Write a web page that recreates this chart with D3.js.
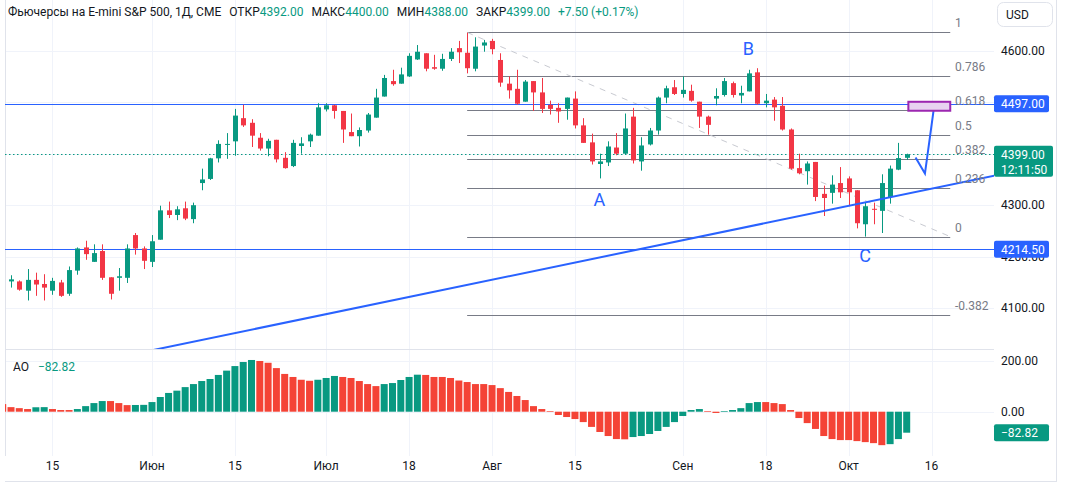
<!DOCTYPE html>
<html><head><meta charset="utf-8">
<script src="https://cdn.jsdelivr.net/npm/d3@7"></script>
<style>body{margin:0;background:#fff;}svg{display:block;font-family:"Trebuchet MS",Roboto,"Noto Sans",sans-serif;}</style>
</head><body><svg id="c" width="1067" height="488"></svg>
<script>
// ---------- data ----------
const opens  = [4152,4152,4134,4155,4147,4134,4150,4128,4173,4218,4190,4211,4160,4159,4159,4242,4216,4190,4233,4290,4281,4294,4273,4343,4351,4391,4418,4424,4469,4460,4431,4410,4427,4392,4376,4415,4424,4435,4486,4494,4483,4442,4434,4445,4470,4511,4541,4536,4550,4583,4595,4568,4565,4584,4605,4596,4565,4610,4619,4582,4536,4526,4501,4541,4519,4495,4489,4487,4507,4455,4422,4380,4383,4412,4400,4472,4385,4418,4445,4509,4529,4516,4522,4501,4472,4507,4514,4537,4513,4521,4558,4498,4505,4493,4447,4372,4366,4384,4322,4324,4343,4352,4329,4263,4293,4289,4316,4369,4392];
const highs  = [4164,4154,4176,4169,4166,4159,4155,4181,4218,4231,4224,4224,4160,4178,4224,4246,4220,4242,4299,4307,4298,4307,4305,4371,4392,4426,4440,4487,4495,4467,4440,4429,4427,4403,4427,4432,4439,4498,4498,4495,4483,4478,4451,4479,4526,4553,4563,4567,4595,4611,4595,4592,4594,4605,4619,4635,4626,4621,4623,4595,4550,4563,4543,4541,4547,4503,4498,4509,4521,4469,4439,4400,4424,4440,4478,4489,4432,4450,4511,4532,4543,4550,4534,4501,4474,4527,4547,4540,4532,4563,4566,4516,4510,4510,4449,4400,4385,4384,4338,4358,4374,4356,4329,4305,4305,4360,4377,4421,4400];
const lows   = [4140,4134,4115,4124,4115,4126,4122,4124,4165,4194,4190,4155,4117,4134,4149,4204,4176,4180,4233,4275,4271,4271,4265,4329,4349,4383,4390,4396,4452,4413,4406,4395,4383,4371,4374,4400,4413,4435,4482,4468,4421,4434,4414,4441,4470,4511,4532,4536,4549,4582,4560,4563,4561,4580,4576,4556,4560,4598,4593,4530,4507,4495,4501,4483,4479,4476,4460,4466,4449,4421,4379,4352,4376,4397,4398,4381,4367,4416,4437,4498,4514,4509,4501,4450,4437,4494,4511,4509,4498,4521,4495,4490,4464,4445,4369,4360,4340,4308,4279,4303,4314,4298,4255,4239,4263,4246,4303,4368,4388];
const closes = [4156,4136,4155,4146,4140,4153,4124,4174,4216,4205,4207,4159,4128,4162,4216,4216,4192,4230,4290,4281,4292,4274,4300,4350,4391,4419,4419,4474,4455,4435,4410,4425,4389,4372,4421,4420,4437,4490,4494,4483,4447,4434,4446,4476,4509,4547,4535,4554,4590,4598,4565,4565,4584,4598,4597,4566,4608,4616,4603,4538,4523,4497,4540,4519,4487,4487,4482,4509,4455,4421,4385,4385,4414,4400,4449,4387,4416,4445,4509,4527,4516,4524,4503,4472,4456,4512,4541,4514,4518,4556,4497,4503,4490,4447,4371,4362,4381,4316,4314,4340,4325,4325,4265,4298,4292,4343,4371,4391.5,4399];
const aoBefore = 30;
const aoValues = [18,14,10.5,17.5,18,10.5,6.6,6.6,10.5,22,34,42,42,34,26,26.5,27,38,58,74,83,97,109,121,129,145,162,180,196,204,200,193,172,149,137,126,122,126,133,141,137,133,121,109,101,109,113,125,137,146,145,137,137,133,123,117,109,109,105,93,78,62,46,22,10.5,2.6,-13,-21,-29,-41,-60,-80,-96,-108,-109,-100,-96,-88,-76,-60,-41,-17,6.6,10.5,2.6,-5,2.6,6.6,14,34,38,38,34,30,6.6,-25,-45,-68,-96,-108,-112,-112,-116,-120,-124,-132,-128,-108,-82.82];
const tickIdx    = [5,17,27,38,48,58,68,81,91,101,111];
const tickLabels = ["15","Июн","15","Июл","18","Авг","15","Сен","18","Окт","16"];
const priceTicks = [4100,4200,4300,4400,4500,4600];
const aoTicks    = [0,200];
const fibLevels  = [1,0.786,0.618,0.5,0.382,0.236,0,-0.382];
const fibAnchor  = [{i:55,p:4635.5},{i:113.25,p:4239}];
const levelLines = [4497,4214.5];
const trendPts   = [{i:17.36,p:4019.5},{i:118.04,p:4355.7}];
const pathPts    = [{i:109.07,p:4392.5},{i:110.2,p:4361.5},{i:111.25,p:4485}];
const rectZone   = {i0:108.2,i1:113.25,p0:4483.4,p1:4500.8};
const waveLabels = [{t:"A",i:70.95,p:4311},{t:"B",i:88.9,p:4605},{t:"C",i:103,p:4203}];

// ---------- layout ----------
const L=5, R=994, mainTop=0, mainBot=349, aoTop=350, aoBot=456;
const GREEN="#089981", RED="#f23645", AOG="#089981", AOR="#f44336", BLUE="#2962ff", TXT="#131722", GRID="#f0f3fa", FIB="#787b86";
const svg=d3.select("#c");
const x=d3.scaleLinear().domain([0,108]).range([11,906.7]);
const y=d3.scaleLinear().domain([4100,4600]).range([308.2,50.7]);
const ya=d3.scaleLinear().domain([0,200]).range([411.7,361]);

const defs=svg.append("defs");
defs.append("clipPath").attr("id","mc").append("rect").attr("x",L).attr("y",mainTop).attr("width",R-L).attr("height",mainBot-mainTop);
defs.append("clipPath").attr("id","ac").append("rect").attr("x",L).attr("y",aoTop).attr("width",R-L).attr("height",aoBot-aoTop);

// grid
const g=svg.append("g");
tickIdx.forEach(t=>{
  g.append("line").attr("x1",Math.round(x(t))+0.5).attr("x2",Math.round(x(t))+0.5).attr("y1",0).attr("y2",aoBot).attr("stroke",GRID);
});
priceTicks.forEach(p=>g.append("line").attr("x1",L).attr("x2",R).attr("y1",Math.round(y(p))+0.5).attr("y2",Math.round(y(p))+0.5).attr("stroke",GRID));
aoTicks.forEach(p=>g.append("line").attr("x1",L).attr("x2",R).attr("y1",Math.round(ya(p))+0.5).attr("y2",Math.round(ya(p))+0.5).attr("stroke",GRID));
// borders
svg.append("line").attr("x1",L+0.5).attr("x2",L+0.5).attr("y1",0).attr("y2",aoBot).attr("stroke","#e0e3eb");
svg.append("line").attr("x1",L).attr("x2",R).attr("y1",mainBot+0.5).attr("y2",mainBot+0.5).attr("stroke","#e0e3eb");
svg.append("line").attr("x1",1056.5).attr("x2",1056.5).attr("y1",0).attr("y2",482).attr("stroke","#e0e3eb");
svg.append("line").attr("x1",L).attr("x2",1057).attr("y1",481.5).attr("y2",481.5).attr("stroke","#e0e3eb");

// main pane
const m=svg.append("g").attr("clip-path","url(#mc)");
// fib
const fy=l=>y(fibAnchor[1].p+(fibAnchor[0].p-fibAnchor[1].p)*l);
const fx0=x(fibAnchor[0].i), fx1=x(fibAnchor[1].i);
fibLevels.forEach(l=>{
  m.append("line").attr("x1",fx0).attr("x2",fx1).attr("y1",Math.round(fy(l))+0.5).attr("y2",Math.round(fy(l))+0.5).attr("stroke",FIB).attr("stroke-width",1);
});
m.append("line").attr("x1",fx0).attr("y1",y(fibAnchor[0].p)).attr("x2",fx1).attr("y2",y(fibAnchor[1].p))
  .attr("stroke","#c8cad1").attr("stroke-width",1).attr("stroke-dasharray","6,6");
// level lines
levelLines.forEach(p=>m.append("line").attr("x1",L).attr("x2",R).attr("y1",Math.round(y(p))+0.5).attr("y2",Math.round(y(p))+0.5).attr("stroke",BLUE).attr("stroke-width",1));
// last price dotted
m.append("line").attr("x1",L).attr("x2",R).attr("y1",Math.round(y(closes[108]))+0.5).attr("y2",Math.round(y(closes[108]))+0.5)
  .attr("stroke",GREEN).attr("stroke-dasharray","1.5,2.5");
// candles
d3.range(opens.length).forEach(i=>{
  const up=closes[i]>=opens[i], col=up?GREEN:RED, cx=Math.round(x(i));
  m.append("line").attr("x1",cx+0.5).attr("x2",cx+0.5).attr("y1",y(highs[i])).attr("y2",y(lows[i])).attr("stroke",col);
  const top=y(Math.max(opens[i],closes[i])), bot=y(Math.min(opens[i],closes[i]));
  m.append("rect").attr("x",cx-2).attr("width",5).attr("y",top).attr("height",Math.max(1,bot-top)).attr("fill",col);
});
// trend line (extended)
const tl=d3.scaleLinear().domain([trendPts[0].i,trendPts[1].i]).range([trendPts[0].p,trendPts[1].p]);
m.append("line").attr("x1",x(-40)).attr("y1",y(tl(-40))).attr("x2",x(140)).attr("y2",y(tl(140))).attr("stroke",BLUE).attr("stroke-width",2);
// forecast path
m.append("path").attr("d",d3.line().x(d=>x(d.i)).y(d=>y(d.p))(pathPts)).attr("fill","none").attr("stroke",BLUE).attr("stroke-width",2);
// zone rect
m.append("rect").attr("x",x(rectZone.i0)).attr("y",y(rectZone.p1)).attr("width",x(rectZone.i1)-x(rectZone.i0)).attr("height",y(rectZone.p0)-y(rectZone.p1))
  .attr("fill","#e8d3f0").attr("stroke","#9c27b0").attr("stroke-width",2);
// wave labels
waveLabels.forEach(d=>m.append("text").attr("x",x(d.i)).attr("y",y(d.p)).attr("text-anchor","middle").attr("dominant-baseline","central")
  .attr("font-size",18).attr("fill",BLUE).text(d.t));
// fib labels
fibLevels.forEach(l=>svg.append("text").attr("x",955).attr("y",fy(l)-5).attr("font-size",12).attr("fill",FIB).text(String(l)));

// AO pane
const a=svg.append("g").attr("clip-path","url(#ac)");
const aoAll=[{i:-1,v:aoBefore,c:AOR}].concat(aoValues.map((v,i)=>({i,v,c:(v-(i?aoValues[i-1]:aoBefore))>0?AOG:AOR})));
aoAll.forEach(d=>{
  const y0=ya(0), y1=ya(d.v);
  a.append("rect").attr("x",x(d.i)-3.5).attr("width",7).attr("y",Math.min(y0,y1)).attr("height",Math.abs(y1-y0)).attr("fill",d.c);
});
svg.append("text").attr("x",13).attr("y",371).attr("font-size",12).attr("fill",TXT).text("AO");
svg.append("text").attr("x",38).attr("y",371).attr("font-size",12).attr("fill",AOG).text(d3.format(".2f")(aoValues[aoValues.length-1]).replace("-","\u2212"));

// right axis labels (4200 sits partly under the 4214.50 badge, as in the reference)
priceTicks.forEach(p=>svg.append("text").attr("x",1001).attr("y",y(p)+4).attr("font-size",12).attr("fill",TXT).text(d3.format(".2f")(p)));
aoTicks.forEach(p=>svg.append("text").attr("x",1001).attr("y",ya(p)+4).attr("font-size",12).attr("fill",TXT).text(d3.format(".2f")(p)));
function box(yc,h,w,fill,lines){
  svg.append("rect").attr("x",994).attr("y",yc-h/2).attr("width",w).attr("height",h).attr("rx",2).attr("fill",fill);
  lines.forEach((t,k)=>svg.append("text").attr("x",1001).attr("y",yc-h/2+13+k*15).attr("font-size",12).attr("fill","#fff").text(t));
}
box(y(levelLines[0]),17,55,BLUE,[d3.format(".2f")(levelLines[0])]);
box(y(closes[108])+7,31,59,GREEN,[d3.format(".2f")(closes[108]),"12:11:50"]);
box(y(levelLines[1]),17,55,BLUE,[d3.format(".2f")(levelLines[1])]);
box(ya(aoValues[108]),17,55,AOG,[d3.format(".2f")(aoValues[108]).replace("-","\u2212")]);

// time axis
tickIdx.forEach((t,k)=>svg.append("text").attr("x",x(t)).attr("y",470).attr("text-anchor","middle").attr("font-size",12).attr("fill",TXT).text(tickLabels[k]));

// USD button
svg.append("rect").attr("x",997.5).attr("y",2.5).attr("width",55).attr("height",24).attr("rx",6).attr("fill","#fff").attr("stroke","#e0e3eb");
svg.append("text").attr("x",1006).attr("y",19).attr("font-size",12).attr("fill",TXT).text("USD");

// title
const f2=d3.format(".2f");
const o=opens[108],h=highs[108],lo=lows[108],c=closes[108],prev=closes[107];
const title=svg.append("text").attr("x",8).attr("y",16).attr("font-size",12).attr("fill",TXT);
title.append("tspan").text("Фьючерсы на E-mini S&P 500, 1Д, CME");
[["ОТКР",f2(o)],["МАКС",f2(h)],["МИН",f2(lo)],["ЗАКР",f2(c)]].forEach(([k,v])=>{
  title.append("tspan").attr("dx",8).text(k);
  title.append("tspan").attr("fill",GREEN).text(v);
});
title.append("tspan").attr("dx",8).attr("fill",GREEN).text("+"+f2(c-prev)+" (+"+f2((c-prev)/prev*100)+"%)");
</script></body></html>
